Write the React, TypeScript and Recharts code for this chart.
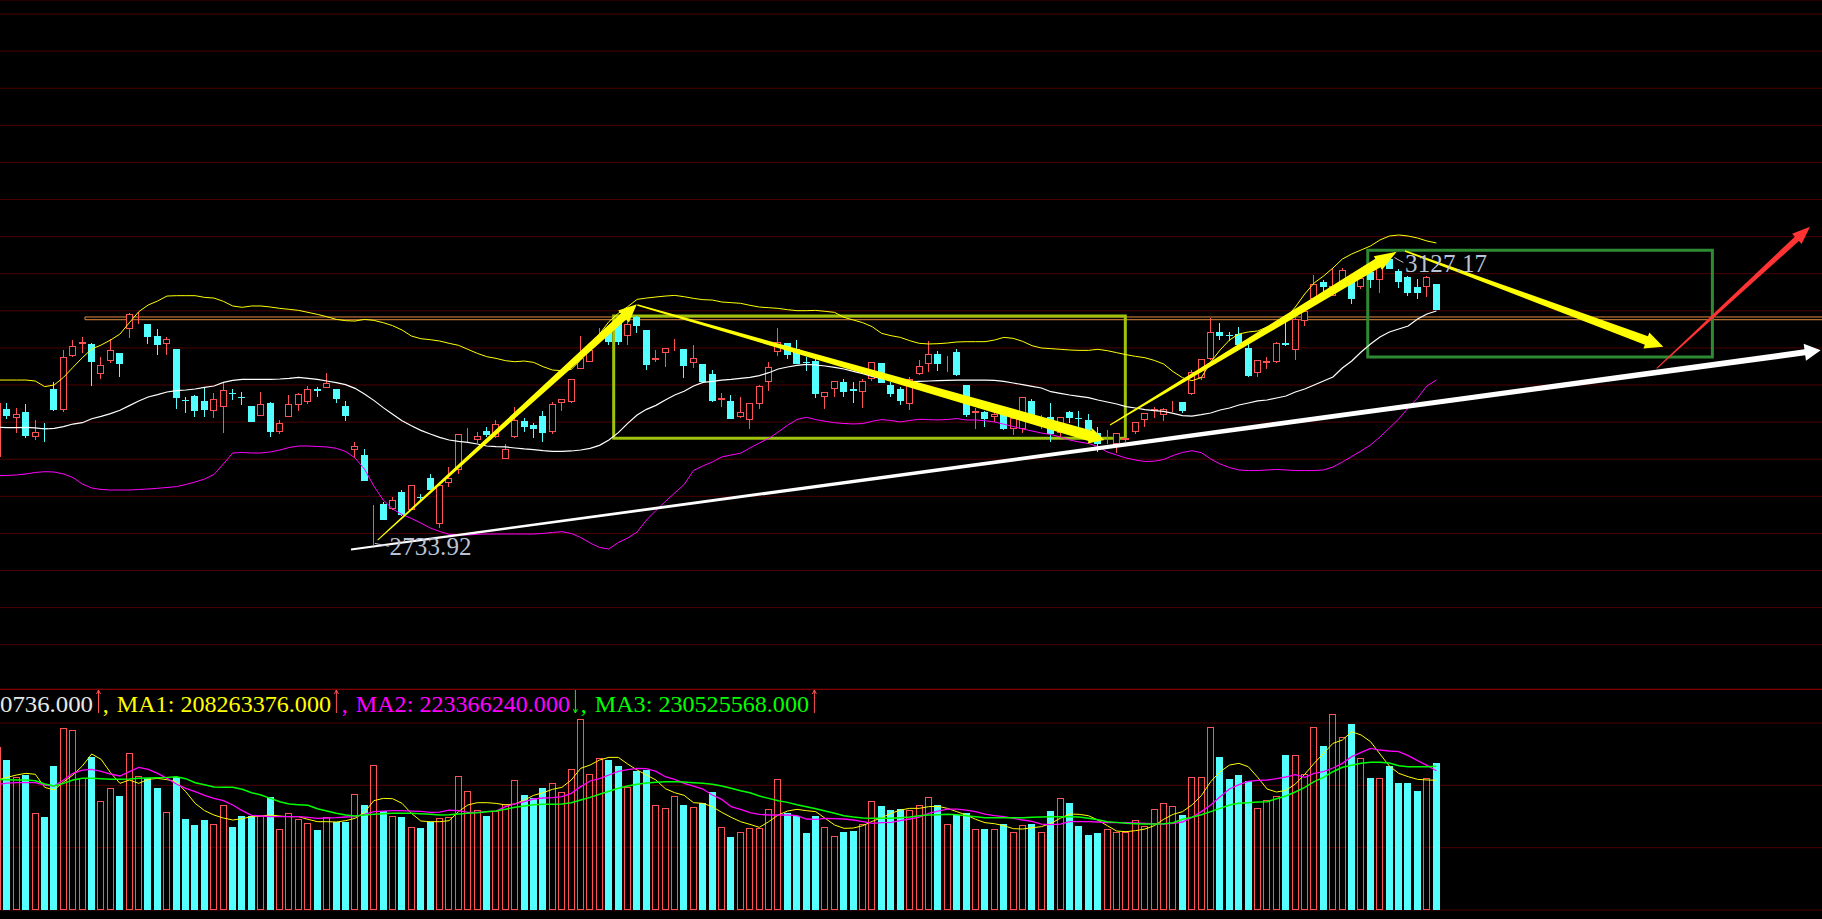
import React from "react";
import {
  ComposedChart,
  Bar,
  Line,
  XAxis,
  YAxis,
  CartesianGrid,
  ReferenceLine,
  ReferenceArea,
  ReferenceDot,
} from "recharts";

// ---- daily candles, index 0 is the half-cut candle on the left edge
const OPEN = [
  2853.4, 2917.2, 2905.1, 2913.2, 2880.4, 2892.5, 2944.6, 2916.8, 2989.5, 3004.8,
  3005.3, 2964.4, 2981.9, 2993.1, 3025, 3042.5, 3032.2, 3016, 3004.8, 2998.5,
  2929.8, 2934.7, 2928.4, 2915.4, 2920.8, 2939.2, 2933.8, 2921.7, 2908.7, 2925.3,
  2887.1, 2907.3, 2922.6, 2927.5, 2944.2, 2946.4, 2944.6, 2922.2, 2862, 2855.7,
  2776.2, 2789.6, 2782.9, 2805.8, 2781.5, 2799.5, 2824.7, 2762.2, 2817.5, 2835.5,
  2879.5, 2875.4, 2888.5, 2880.4, 2850.7, 2879.5, 2901.5, 2896.1, 2908.2, 2887.1,
  2925.3, 2927.5, 2972, 2981.4, 3024.1, 3024.1, 3033.1, 3016.5, 3042.1, 3024.1,
  2984.1, 2992.7, 3005.3, 2998.5, 2979.2, 2978.3, 2964.8, 2930.2, 2928.4, 2906.4,
  2902.8, 2924, 2954.5, 2994, 3006.2, 2998.1, 2981, 2982.3, 2933.4, 2945.1,
  2954, 2944.2, 2940.1, 2958.5, 2979.6, 2949.5, 2944.6, 2924, 2964.4, 2977.9,
  2991.8, 2977.9, 2994.5, 2949.5, 2912.7, 2913.6, 2907.3, 2911.8, 2890.3, 2890.3,
  2928.4, 2898.3, 2906.9, 2885.8, 2913.2, 2905.5, 2902.8, 2885.8, 2874.1, 2870.5,
  2876.3, 2886.2, 2902.8, 2915.4, 2909.6, 2923, 2927.1, 2937.4, 2959, 2984.6,
  3021.5, 3017.4, 3019.2, 2999.5, 2965.8, 2980.1, 2980.6, 3006.2, 2997.7, 3035.8,
  3065.5, 3088.8, 3070.4, 3087.1, 3091.5, 3082.6, 3102.3, 3091.1, 3119.4, 3103.7,
  3095.6, 3082.6, 3082.6, 3086.2,
];
const HIGH = [
  2926, 2925.3, 2918.6, 2924, 2902.8, 2898.3, 2953.6, 2997.2, 3010.6, 3014.2,
  3006, 2987.3, 3012.4, 2993.5, 3046.6, 3047.9, 3032.5, 3025, 3014.2, 2999,
  2934.3, 2936.5, 2947.8, 2938.8, 2954.5, 2944.6, 2941, 2922, 2940.1, 2927.5,
  2902.8, 2936.5, 2938.8, 2948.7, 2947.8, 2965.7, 2945, 2928.4, 2872.7, 2863.3,
  2787.8, 2792.8, 2799.5, 2808.5, 2815, 2802.7, 2829.6, 2816.6, 2840, 2884,
  2891.6, 2886.2, 2893.9, 2902.8, 2870.5, 2920.4, 2905.1, 2898.3, 2915, 2927.5,
  2931.5, 2958.5, 3016, 3001.7, 3027.3, 3028.6, 3033.5, 3037.6, 3042.5, 3024.5,
  2997.2, 2999.8, 3011.5, 2999, 3003.5, 2978.7, 2970.2, 2938.8, 2936.5, 2933.4,
  2925.7, 2950, 2980.5, 3026.4, 3006.6, 3010.6, 2987.3, 2985, 2940.5, 2955.4,
  2958.1, 2954, 2958.1, 2981, 2980, 2954, 2946.9, 2960.3, 2983.7, 3009.3,
  2995.8, 2989.1, 2998.5, 2950, 2918.6, 2915.4, 2915.4, 2914.1, 2907.3, 2933.8,
  2931.1, 2910, 2925.3, 2907.3, 2915, 2915, 2910.9, 2893.9, 2889.4, 2885.3,
  2880.4, 2900, 2912.2, 2920.8, 2919.5, 2928.4, 2927.5, 2970.2, 2985, 3040.8,
  3033.1, 3021.5, 3027.8, 3005.3, 2983.7, 2988.2, 3007.5, 3037.6, 3041.2, 3052,
  3098.3, 3091.5, 3108.2, 3107.3, 3098.3, 3095, 3105, 3117.6, 3127.17, 3106.4,
  3096.9, 3092.9, 3096.9, 3086.6,
];
const LOW = [
  2852, 2903.7, 2885.8, 2879, 2875.9, 2873.6, 2915.4, 2914.1, 2988.2, 2993.6,
  2949.1, 2958.1, 2980.1, 2961.2, 3013.8, 3032.7, 3005.3, 2990.9, 2990.4, 2917.7,
  2912.7, 2907.3, 2907.3, 2906, 2885.8, 2929.8, 2923, 2900, 2908.5, 2879.5,
  2883.5, 2907, 2915.4, 2924, 2933.4, 2946, 2926.2, 2901.9, 2853.4, 2820.8,
  2733.92, 2767.8, 2781.5, 2773.5, 2781, 2792.8, 2808.1, 2756.8, 2812.1, 2829.6,
  2872.3, 2872.3, 2880.4, 2878.1, 2849.8, 2879, 2887.1, 2878.1, 2873.6, 2884,
  2915.4, 2925.3, 2971.5, 2981, 3019.6, 3003.9, 3003.9, 3003.9, 3019.6, 2970.2,
  2981.4, 2974.7, 2996.3, 2959.9, 2973.4, 2953.6, 2927.5, 2920.8, 2904.3, 2906,
  2891.2, 2918.1, 2942.4, 2989.5, 2985.5, 2978.4, 2969.3, 2932.9, 2917.2, 2934.3,
  2934.3, 2926.2, 2919.5, 2955.8, 2952.7, 2934.3, 2923.5, 2916.8, 2964, 2968,
  2969.3, 2968, 2962.6, 2906.4, 2891.2, 2893.9, 2900.6, 2889.4, 2883.1, 2884.9,
  2900.6, 2890.3, 2873.6, 2880.4, 2898.3, 2891.6, 2887.1, 2860.2, 2870.5, 2857.9,
  2873.6, 2884, 2893.9, 2905.1, 2901.9, 2914.1, 2912.7, 2936.1, 2956.7, 2984.2,
  3010.7, 3009.8, 3003.5, 2960.4, 2960.4, 2971.2, 2980.2, 3002.6, 2983.7, 3030,
  3065, 3074.9, 3070, 3086.7, 3058.8, 3079.9, 3081.2, 3074.5, 3106, 3081.2,
  3070.4, 3066.4, 3069.1, 3050.7,
];
const CLOSE = [
  2925.3, 2908.7, 2910.9, 2881.7, 2887.1, 2890.7, 2916.3, 2987.3, 3002.1, 3008,
  2981.4, 2976.5, 2996.7, 2978.8, 3045.2, 3044.3, 3015.1, 3003.9, 3011.5, 2932.9,
  2928, 2915.4, 2916.3, 2931.1, 2942.8, 2937.4, 2932, 2900.6, 2924, 2887.1,
  2899.2, 2924, 2937.4, 2944.2, 2942.4, 2952.2, 2931.6, 2908.7, 2867.8, 2821.1,
  2778, 2768.1, 2794.6, 2774.4, 2814.8, 2797.7, 2809, 2815.2, 2824.7, 2883.5,
  2881.3, 2881.3, 2882.6, 2897.4, 2863.8, 2902.4, 2893.9, 2891.2, 2885.8, 2924,
  2931.1, 2958.1, 2985.9, 2997.2, 3025.9, 3008.4, 3008, 3032.7, 3030, 2977,
  2985.9, 2999.4, 3007.1, 2975.6, 2985.9, 2954, 2928.9, 2932, 2904.6, 2913.2,
  2925.3, 2948.2, 2973.8, 3007.5, 2990.9, 2978.8, 2979.2, 2938.3, 2940.1, 2955,
  2941, 2942.4, 2955, 2980.5, 2953.1, 2938.3, 2928.9, 2957.6, 2975.2, 2991.3,
  2978.8, 2979.6, 2963.5, 2910, 2914.5, 2904.2, 2910.5, 2891.2, 2905.1, 2933.4,
  2910, 2900.6, 2884, 2906.9, 2906, 2903.7, 2889.4, 2871, 2875.9, 2884.9,
  2878.1, 2899.7, 2911.8, 2917.2, 2917.2, 2924.8, 2915.4, 2967.1, 2984.6, 3021.9,
  3016.5, 3015.6, 3003.9, 2962.6, 2983.3, 2981.9, 3007.1, 3003.9, 3039.4, 3050.2,
  3085.7, 3082.6, 3083.5, 3105, 3066.4, 3094.7, 3091.5, 3116.2, 3106.4, 3088.8,
  3073.6, 3074.5, 3095.1, 3051.1,
];

// ---- Bollinger bands as drawn
const BOLL_UP = [
  2956.7, 2956.7, 2956.7, 2956.7, 2955.4, 2947.8, 2950, 2960.3, 2973.8, 2986.8,
  2998.5, 3003.9, 3010.6, 3018.7, 3034, 3048.8, 3057.8, 3063.2, 3069.9, 3070.4,
  3070.4, 3070.4, 3068.1, 3067.2, 3062.8, 3056.5, 3054.7, 3056.5, 3056.5, 3055.1,
  3053.3, 3052, 3050.6, 3047.9, 3045.2, 3042.1, 3038.5, 3036.7, 3036.2, 3038.5,
  3037.1, 3034, 3030, 3024.1, 3016, 3012.4, 3011.1, 3009.3, 3006.2, 3003.5,
  2998.1, 2992.7, 2988.2, 2985.9, 2982.8, 2981.4, 2982.3, 2980.5, 2974.7, 2970.2,
  2969.3, 2971.1, 2983.7, 3001.7, 3018.7, 3035.4, 3046.6, 3055.6, 3065.4, 3067.2,
  3068.6, 3069.9, 3070.8, 3069, 3066.8, 3065, 3064.5, 3061.9, 3061, 3060.1,
  3057.4, 3055.1, 3054.2, 3053.3, 3051.5, 3050.2, 3050.2, 3050.6, 3049.3, 3047.9,
  3041.2, 3037.6, 3034, 3028.6, 3019.6, 3016.5, 3014.2, 3009.7, 3006.2, 3005.3,
  3005.7, 3006.6, 3008, 3008.4, 3008.4, 3008.4, 3010.6, 3014.2, 3012.9, 3008.8,
  3003, 2999.9, 2999, 2998.1, 2997.2, 2996.7, 2996.7, 2998.1, 2996.3, 2993.6,
  2990.9, 2988.6, 2986.8, 2983.2, 2978.3, 2968, 2959.9, 2955.8, 2959.9, 2981,
  2997.2, 3010.7, 3018.8, 3021.5, 3022.8, 3028.2, 3032.3, 3040.3, 3055.1, 3072.7,
  3087.5, 3096.9, 3107.7, 3119.8, 3126.6, 3132, 3137.4, 3145.5, 3150.8, 3152.2,
  3150.8, 3148.1, 3144.1, 3141.4,
];
const BOLL_MID = [
  2893, 2892.5, 2892.5, 2893, 2892.1, 2890.7, 2891.6, 2893.9, 2897.4, 2899.2,
  2904.6, 2907.8, 2911.4, 2915.9, 2922.2, 2928.4, 2933.8, 2937, 2940.6, 2942.4,
  2943.3, 2944.6, 2946.9, 2948.7, 2953.6, 2956.3, 2957.6, 2957.6, 2957.6, 2957.6,
  2958.1, 2959, 2960.3, 2959, 2957.6, 2955.4, 2953.1, 2950.5, 2945.5, 2937.9,
  2929.3, 2919.5, 2910.5, 2901.9, 2895.2, 2888.9, 2884, 2879.5, 2875.9, 2874.1,
  2872.7, 2870.5, 2867.8, 2866.9, 2866.5, 2865.1, 2863.8, 2862.9, 2861.5, 2860.6,
  2860.6, 2861.1, 2862.4, 2864.7, 2868.7, 2875.9, 2885.8, 2898.3, 2909.6, 2917.2,
  2922.6, 2929.8, 2936.5, 2941.5, 2948.7, 2953.6, 2955, 2956.7, 2957.6, 2959,
  2960.3, 2962.6, 2966.6, 2971.6, 2974.3, 2976.5, 2977.9, 2977, 2975.6, 2973.8,
  2971.6, 2968.4, 2965.3, 2961.7, 2958.5, 2956.7, 2955.4, 2954.5, 2955, 2955.4,
  2955.8, 2956.3, 2956.7, 2956.7, 2956.7, 2956.7, 2956.3, 2955, 2952.7, 2950.5,
  2948.2, 2946, 2941, 2938.8, 2936.5, 2934.7, 2932.9, 2929.8, 2927.1, 2924.4,
  2920.8, 2919, 2916.8, 2915.4, 2914.5, 2911.8, 2908.7, 2908.2, 2910, 2912.3,
  2916.3, 2919, 2923.1, 2925.8, 2928.5, 2929.8, 2932.5, 2935.2, 2940.6, 2944.6,
  2950, 2955.4, 2960.8, 2972.9, 2982.4, 2994.5, 3005.3, 3014.7, 3021.5, 3025.5,
  3029.5, 3039, 3045.7, 3049.8,
];
const BOLL_LOW = [
  2827.8, 2828.1, 2828.8, 2830.1, 2832.1, 2833.2, 2832.8, 2830.1, 2825.3, 2816.6,
  2811.2, 2809.2, 2808.5, 2808.5, 2808.5, 2809.2, 2809.9, 2810.8, 2811.9, 2813,
  2815.9, 2819.3, 2823.3, 2829.4, 2843.6, 2858.4, 2859.1, 2858.4, 2858.4, 2859.8,
  2862.4, 2865.8, 2867.8, 2867.8, 2867.2, 2866.5, 2864.7, 2860.4, 2851.7, 2836.8,
  2813.9, 2795, 2782.9, 2775.5, 2770.1, 2764, 2757.3, 2752.6, 2748.9, 2748.1,
  2747.9, 2748.8, 2749.2, 2749.2, 2749.2, 2749.2, 2749.2, 2749.2, 2749.9, 2751.3,
  2752.3, 2749.9, 2744.5, 2737.1, 2731, 2729, 2737.8, 2743.8, 2751.9, 2768.1,
  2780.9, 2793, 2804.5, 2815.9, 2834.8, 2840.9, 2846.3, 2853, 2855.7, 2858.1,
  2865.1, 2871.9, 2878, 2886.7, 2895.7, 2903.5, 2906.5, 2903.4, 2901.1, 2899.2,
  2898.1, 2897.5, 2898.1, 2901.1, 2903.4, 2902.2, 2900.2, 2902.2, 2903.8, 2903.4,
  2902.9, 2903.5, 2904.8, 2902.9, 2902.9, 2901.8, 2900.2, 2897.2, 2894.1, 2890.7,
  2888, 2885.3, 2883.3, 2879.9, 2875.9, 2873.2, 2871.2, 2867.1, 2859.7, 2855.7,
  2851.6, 2848.9, 2846.9, 2847.3, 2849.6, 2855, 2859.1, 2861.5, 2858.8, 2850.3,
  2843.6, 2838.8, 2835.5, 2834.7, 2834.7, 2835.5, 2836.2, 2835.5, 2834.7, 2834.7,
  2834.7, 2835.5, 2839.5, 2846.3, 2853.7, 2861.1, 2869.2, 2880, 2892.1, 2904.2,
  2919, 2932.5, 2948.7, 2956.8,
];

// ---- volume (millions of shares) and its three moving averages
const VOLUME = [
  262, 240.6, 212.8, 216.6, 155.1, 149.2, 231, 291.5, 288.8, 212.3,
  246, 174.9, 195.2, 182.9, 251.3, 215, 211.2, 196.3, 156.7, 212.8,
  146, 136.4, 143.9, 137.4, 168.5, 133.7, 150.8, 150.8, 150.8, 181.8,
  129.4, 156.1, 145.5, 139, 128.3, 148.7, 141.7, 141.7, 186.1, 168.5,
  232.6, 158.8, 150.8, 149.7, 133.2, 132.1, 141.7, 147, 149.7, 215,
  190.9, 160.4, 150.8, 158.8, 170, 208.6, 184.5, 179.1, 195.2, 203.2,
  188.8, 225.7, 305.9, 217.7, 244.4, 240.6, 231, 197.9, 223.5, 224.6,
  168.5, 163.1, 182.9, 168.5, 165.8, 171.1, 188.8, 133.7, 117.6, 125.7,
  131, 132.1, 161.5, 210.2, 155.1, 150.8, 123, 150.8, 133.2, 118.7,
  125.1, 126.7, 137.9, 174.9, 166.8, 160.4, 162, 160.4, 167.9, 180.7,
  167.9, 137.9, 152.4, 156.2, 129.9, 129.9, 129.9, 137.9, 125.1, 136.4,
  137.9, 125.1, 158.8, 179.7, 171.1, 134.8, 120.3, 123.5, 129.9, 125.1,
  125.1, 143.9, 135.3, 162, 171.1, 166.8, 152.4, 213.4, 213.4, 293.1,
  245.5, 209.6, 216.6, 206.9, 163.1, 176.5, 182.9, 248.7, 248.1, 217.7,
  293.1, 263.1, 314.5, 277, 298.4, 243.3, 211.8, 211.2, 231, 203.7,
  203.7, 190.9, 211.2, 235.820736,
];
const VOL_MA1 = [
  208.6, 212.8, 216.6, 219.3, 217.7, 196.8, 192.5, 205.4, 216.6, 231,
  250.3, 241.7, 220.3, 203.2, 208.6, 203.2, 209.6, 211.2, 209.1, 205.9,
  189.8, 171.1, 159.4, 152.4, 147.6, 144.4, 146.5, 149.7, 150.8, 152.4,
  150.8, 149.7, 149.7, 145.5, 141.7, 141.7, 141.2, 143.3, 147.1, 156.7,
  175.4, 179.1, 178.6, 171.1, 155.1, 142.8, 141.7, 141.7, 143.3, 157.7,
  168.5, 172.2, 172.2, 171.1, 168.5, 170.1, 176.5, 184, 188.2, 193.6,
  196.8, 208.6, 227.3, 232.6, 240.6, 244.9, 244.9, 234.2, 224.6, 216.6,
  208.6, 194.7, 188.2, 184, 172.2, 171.1, 165.8, 156.7, 148.7, 141.7,
  137.4, 132.6, 141.7, 152.4, 158.8, 161.5, 159.4, 157.8, 147.1, 136.4,
  131, 131.5, 135.3, 142.2, 148.1, 155.1, 160.4, 163.1, 163.1, 165.8,
  166.3, 163.1, 157.8, 152.4, 145.5, 140.1, 138.5, 135.3, 130.5, 129.9,
  132.1, 133.7, 139, 147.1, 154, 153.5, 151.3, 144.4, 135.3, 126.7,
  125.7, 127.3, 129.9, 135.3, 145.5, 153.5, 157.8, 168.5, 183.4, 205.9,
  221.9, 232.6, 235.3, 229.9, 212.8, 194.1, 189.3, 192, 202.1, 217.7,
  235.3, 251.3, 267.4, 272.7, 286.1, 280.8, 270.1, 250.3, 231, 219.3,
  213.9, 209.6, 208.6, 208.263376,
];
const VOL_MA2 = [
  201.6, 203.7, 204.3, 204.3, 204.3, 200.5, 198.9, 208.6, 219.3, 224.6,
  225.7, 222.5, 218.2, 215, 221.9, 228.9, 225.7, 219.3, 211.2, 202.1,
  195.2, 189.8, 184, 179.1, 175.4, 168.5, 159.4, 151.9, 150.8, 149.7,
  149.7, 149.7, 149.7, 148.7, 147.1, 147.6, 148.1, 149.2, 149.7, 153.5,
  157.8, 158.8, 159.4, 159.4, 158.8, 158.3, 156.7, 157.2, 160.4, 159.4,
  156.7, 156.7, 157.8, 158.8, 165.8, 170.1, 173.8, 178.1, 179.7, 180.2,
  181.8, 187.2, 197.9, 207, 210.7, 216.6, 222.5, 225.1, 227.3, 226.7,
  222.5, 213.9, 209.6, 203.2, 198.9, 194.1, 184.5, 177.5, 165.8, 161.5,
  156.2, 153.5, 152.4, 152.4, 152.4, 151.3, 146, 145.5, 147.1, 146.5,
  146, 144.4, 141.7, 139, 140.1, 140.6, 143.3, 146, 149.2, 155.1,
  158.8, 162, 162, 160.4, 157.8, 154, 151.3, 149.7, 147.1, 144.4,
  142.2, 137.9, 136.9, 137.9, 141.7, 141.7, 141.7, 141.2, 140.1, 140.1,
  140.1, 139.6, 139, 138.5, 137.9, 139, 141.2, 148.7, 157.8, 168.5,
  181.8, 194.1, 201.1, 206.4, 208, 208.6, 210.7, 213.4, 217.1, 212.8,
  219.3, 221.9, 227.8, 235.3, 246, 253, 259.4, 256.7, 255.1, 254,
  247.6, 239.6, 232.1, 223.36624,
];
const VOL_MA3 = [
  209.6, 209.1, 208.6, 208.6, 207.5, 202.1, 198.9, 203.2, 208.6, 211.2,
  211.2, 210.7, 209.6, 209.6, 210.2, 211.2, 211.8, 212.3, 212.8, 213.9,
  210.7, 204.3, 201.1, 197.3, 196.8, 196.8, 193.6, 188.2, 184.5, 179.1,
  173.8, 170.1, 169, 167.9, 162.6, 158.8, 155.1, 152.4, 150.8, 152.4,
  153.5, 154.5, 155.1, 155.1, 155.1, 154.5, 153.5, 152.4, 152.9, 154,
  155.1, 156.2, 157.8, 158.8, 161.5, 164.7, 166.8, 169, 169.5, 169.5,
  170.1, 172.2, 176.5, 180.7, 185.6, 190.4, 195.2, 198.9, 201.6, 203.7,
  204.8, 205.9, 205.9, 205.3, 204.3, 203.2, 201.6, 198.9, 195.2, 191.4,
  188.2, 182.9, 179.1, 175.4, 172.7, 169, 165.8, 162.6, 158.8, 155.1,
  151.3, 149.2, 147.6, 147.1, 147.1, 147.1, 148.1, 149.2, 151.3, 152.4,
  152.9, 153.5, 152.9, 151.3, 149.7, 148.1, 148.1, 148.1, 148.1, 148.1,
  148.7, 149.2, 149.7, 149.7, 149.7, 149.2, 147.1, 144.9, 141.7, 140.6,
  139, 138.5, 137.9, 137.9, 138.5, 140.1, 145.5, 148.7, 152.9, 157.8,
  163.1, 168.5, 171.1, 172.2, 173.3, 173.8, 178.6, 182.9, 189.3, 196.8,
  205.9, 212.8, 221.9, 228.9, 232.1, 235.3, 236.9, 236.9, 235.8, 231.6,
  230, 230, 230, 230.525568,
];

// ---- axes / grid
const PRICE_GRID = [
  2600, 2650, 2700, 2750, 2800, 2850, 2900, 2950, 3000,
  3050, 3100, 3150, 3200, 3250, 3300, 3350, 3400, 3450,
];
const VOL_GRID = [0, 100, 200, 300];

// ---- hand-drawn annotations, in (candle index, price) units
const KEY_LEVEL = { from: 9.28, to: 196, low: 3038, high: 3041.7 };
const BOXES = [
  { x1: 65.51, x2: 119.92, y1: 2878.2, y2: 3043.0, color: "#9fc20c" },
  { x1: 145.7, x2: 182.35, y1: 2987.8, y2: 3131.6, color: "#2f8a34" },
];
const ARROWS = [
  { from: [40.4, 2741.1], to: [67.97, 3058.7], color: "#ffff00", w0: 1, w1: 8, head: 18, hw: 16 },
  { from: [68.03, 3057.8], to: [117.69, 2875.9], color: "#ffff00", w0: 1.5, w1: 11, head: 15, hw: 16 },
  { from: [118.29, 2896.1], to: [148.78, 3129.7], color: "#ffff00", w0: 1, w1: 10, head: 22, hw: 16 },
  { from: [149.67, 3130.6], to: [177.13, 3001.6], color: "#ffff00", w0: 1.5, w1: 9, head: 18, hw: 17 },
  { from: [37.57, 2728.2], to: [193.87, 2997], color: "#ffffff", w0: 2, w1: 6, head: 16, hw: 17 },
  { from: [176.43, 2972.5], to: [192.74, 3163.4], color: "#ff3333", w0: 1, w1: 6, head: 18, hw: 14 },
];
const PRICE_NOTES = [
  { i: 40, price: LOW[40], dx: 15.7, dy: 9.5, lead: [1, -2, 15, 1] },
  { i: 148, price: HIGH[148], dx: 15.7, dy: 18, lead: [5, 4, 14, 9] },
];

const W = 1822;
const MAIN_H = 689;
const VOL_H = 223;
const X_DOMAIN: [number, number] = [0.2446, 194.01];
const PRICE_DOMAIN: [number, number] = [2540.3, 3468.9];
const VOL_DOMAIN: [number, number] = [0, 354.6];

const UP = "#ff5252";
const DOWN = "#54ffff";
const GRID = "#4d0000";
const NOTE = "#b9c3d6";
const SERIF = '"Liberation Serif", "DejaVu Serif", serif';
const HEAD_SIZE = 24;

function CandleShape(props: any) {
  const { x, y, width, height } = props;
  const d = props.payload;
  if (x == null || y == null || !d) return null;
  const top = Math.min(y, y + height);
  const h = Math.abs(height);
  const span = d.high - d.low || 1;
  const py = (v: number) => top + ((d.high - v) / span) * h;
  const left = Math.round(x + width / 2 - 3.5);
  const mid = left + 3.5;
  const rising = d.close >= d.open;
  const color = rising ? UP : DOWN;
  const bTop = Math.round(py(Math.max(d.open, d.close)));
  const bBot = Math.max(bTop + 1, Math.round(py(Math.min(d.open, d.close))));
  return (
    <g>
      <line x1={mid} x2={mid} y1={Math.round(py(d.high))} y2={Math.round(py(d.low))} stroke={color} />
      {rising ? (
        <rect x={left + 0.5} y={bTop + 0.5} width={6} height={Math.max(bBot - bTop - 1, 0)} fill="#000" stroke={color} />
      ) : (
        <rect x={left} y={bTop} width={7} height={bBot - bTop} fill={color} />
      )}
    </g>
  );
}

function VolumeShape(props: any) {
  const { x, y, width, height } = props;
  const d = props.payload;
  if (x == null || y == null || !d) return null;
  const left = Math.round(x + width / 2 - 3.5);
  const top = Math.round(Math.min(y, y + height));
  const bot = Math.round(Math.max(y, y + height));
  if (d.close >= d.open) {
    return <rect x={left + 0.5} y={top + 0.5} width={6} height={Math.max(bot - top - 1, 0)} fill="none" stroke={UP} />;
  }
  return <rect x={left} y={top} width={7} height={bot - top} fill={DOWN} />;
}

const taperedArrow = (a: (typeof ARROWS)[number]) => (p: any) => {
  const { x1, y1, x2, y2 } = p;
  const len = Math.hypot(x2 - x1, y2 - y1) || 1;
  const ux = (x2 - x1) / len;
  const uy = (y2 - y1) / len;
  const nx = -uy;
  const ny = ux;
  const bx = x2 - ux * a.head;
  const by = y2 - uy * a.head;
  const pt = (px: number, py: number, k: number) => `${px + nx * k},${py + ny * k}`;
  const points = [
    pt(x1, y1, a.w0 / 2),
    pt(bx, by, a.w1 / 2),
    pt(bx, by, a.hw / 2),
    `${x2},${y2}`,
    pt(bx, by, -a.hw / 2),
    pt(bx, by, -a.w1 / 2),
    pt(x1, y1, -a.w0 / 2),
  ].join(" ");
  return <polygon points={points} fill={a.color} />;
};

const noteShape = (n: (typeof PRICE_NOTES)[number]) => (p: any) => {
  const { cx, cy } = p;
  return (
    <g>
      <line x1={cx + n.lead[0]} y1={cy + n.lead[1]} x2={cx + n.lead[2]} y2={cy + n.lead[3]} stroke={NOTE} />
      <text x={cx + n.dx} y={cy + n.dy} fill={NOTE} fontFamily={SERIF} fontSize={25} textLength={82} lengthAdjust="spacing">
        {n.price.toFixed(2)}
      </text>
    </g>
  );
};

function TrendMark({ x, up, color }: { x: number; up: boolean; color: string }) {
  const t = 1;
  const b = 24;
  const head = up ? `${x - 2},${t + 4} ${x},${t} ${x + 2},${t + 4}` : `${x - 2},${b - 4} ${x},${b} ${x + 2},${b - 4}`;
  return (
    <g stroke={color} fill="none">
      <line x1={x} y1={t} x2={x} y2={b} />
      <polyline points={head} />
    </g>
  );
}

const last = VOLUME.length - 1;
const VOL_LABELS = [
  { name: "MA1", value: VOL_MA1[last], color: "#ffff00", up: true, markColor: UP },
  { name: "MA2", value: VOL_MA2[last], color: "#ff00ff", up: false, markColor: "#00ff00" },
  { name: "MA3", value: VOL_MA3[last], color: "#00ff00", up: true, markColor: UP },
];

function VolumeHeader() {
  const fmt = (v: number) => (v * 1e6).toFixed(3);
  const labelW = 214.2;
  let cursor = 102.8;
  const parts = VOL_LABELS.map((l) => {
    const comma = cursor;
    const textX = comma + 14;
    const mark = textX + labelW + 5.4;
    cursor = mark + 5.4;
    return { ...l, comma, textX, mark };
  });
  // the terminal window cuts the volume reading at the left edge: only its tail is visible
  const volTail = fmt(VOLUME[last]).slice(-8);
  return (
    <svg width={W} height={30} style={{ position: "absolute", left: 0, top: 689 }}>
      <text x={0} y={23} fill="#e8e8e8" fontFamily={SERIF} fontSize={HEAD_SIZE} textLength={93} lengthAdjust="spacingAndGlyphs">
        {volTail}
      </text>
      <TrendMark x={98.5} up color={UP} />
      {parts.map((p) => (
        <g key={p.name}>
          <text x={p.comma} y={23} fill={p.color} fontFamily={SERIF} fontSize={HEAD_SIZE}>,</text>
          <text x={p.textX} y={23} fill={p.color} fontFamily={SERIF} fontSize={HEAD_SIZE} textLength={labelW} lengthAdjust="spacingAndGlyphs">
            {`${p.name}: ${fmt(p.value)}`}
          </text>
          <TrendMark x={p.mark} up={p.up} color={p.markColor} />
        </g>
      ))}
    </svg>
  );
}

export default function App() {
  const data = OPEN.map((open, i) => ({
    i,
    open,
    high: HIGH[i],
    low: LOW[i],
    close: CLOSE[i],
    up: BOLL_UP[i],
    mid: BOLL_MID[i],
    lo: BOLL_LOW[i],
    vol: VOLUME[i],
    ma1: VOL_MA1[i],
    ma2: VOL_MA2[i],
    ma3: VOL_MA3[i],
  }));

  return (
    <div style={{ position: "absolute", left: 0, top: 0, width: W, height: 919, background: "#000", overflow: "hidden" }}>
      <div style={{ position: "absolute", left: 0, top: 0 }}>
        <ComposedChart width={W} height={MAIN_H} data={data} margin={{ top: 0, right: 0, bottom: 0, left: 0 }}>
          <XAxis type="number" dataKey="i" domain={X_DOMAIN} allowDataOverflow hide />
          <YAxis type="number" domain={PRICE_DOMAIN} ticks={PRICE_GRID} allowDataOverflow hide />
          <CartesianGrid vertical={false} stroke={GRID} />
          <ReferenceArea
            x1={KEY_LEVEL.from}
            x2={KEY_LEVEL.to}
            y1={KEY_LEVEL.low}
            y2={KEY_LEVEL.high}
            fill="none"
            fillOpacity={0}
            stroke="#e08a40"
            strokeWidth={1}
            ifOverflow="hidden"
          />
          <Bar dataKey={(d: any) => [d.low, d.high]} barSize={7} shape={CandleShape} isAnimationActive={false} />
          <Line dataKey="up" stroke="#ffff00" strokeWidth={1} dot={false} isAnimationActive={false} />
          <Line dataKey="mid" stroke="#ffffff" strokeWidth={1.2} dot={false} isAnimationActive={false} />
          <Line dataKey="lo" stroke="#ff00ff" strokeWidth={1} dot={false} isAnimationActive={false} />
          {BOXES.map((b, k) => (
            <ReferenceArea
              key={`box${k}`}
              x1={b.x1}
              x2={b.x2}
              y1={b.y1}
              y2={b.y2}
              fill="none"
              fillOpacity={0}
              stroke={b.color}
              strokeWidth={3}
              ifOverflow="visible"
            />
          ))}
          {ARROWS.map((a, k) => (
            <ReferenceLine
              key={`arrow${k}`}
              segment={[
                { x: a.from[0], y: a.from[1] },
                { x: a.to[0], y: a.to[1] },
              ]}
              ifOverflow="visible"
              shape={taperedArrow(a)}
            />
          ))}
          {PRICE_NOTES.map((n, k) => (
            <ReferenceDot key={`note${k}`} x={n.i} y={n.price} r={0} ifOverflow="visible" shape={noteShape(n)} />
          ))}
        </ComposedChart>
      </div>

      <div style={{ position: "absolute", left: 0, top: 689, width: W, height: 1, background: "#b00000" }} />

      <div style={{ position: "absolute", left: 0, top: 689 }}>
        <ComposedChart width={W} height={VOL_H} data={data} margin={{ top: 0, right: 0, bottom: 2, left: 0 }}>
          <XAxis type="number" dataKey="i" domain={X_DOMAIN} allowDataOverflow hide />
          <YAxis type="number" domain={VOL_DOMAIN} ticks={VOL_GRID} allowDataOverflow hide />
          <CartesianGrid vertical={false} stroke={GRID} />
          <Bar dataKey="vol" barSize={7} shape={VolumeShape} isAnimationActive={false} />
          <Line dataKey="ma1" stroke="#ffff00" strokeWidth={1} dot={false} isAnimationActive={false} />
          <Line dataKey="ma2" stroke="#ff00ff" strokeWidth={1.3} dot={false} isAnimationActive={false} />
          <Line dataKey="ma3" stroke="#00ff00" strokeWidth={1.5} dot={false} isAnimationActive={false} />
        </ComposedChart>
      </div>

      <VolumeHeader />
    </div>
  );
}
